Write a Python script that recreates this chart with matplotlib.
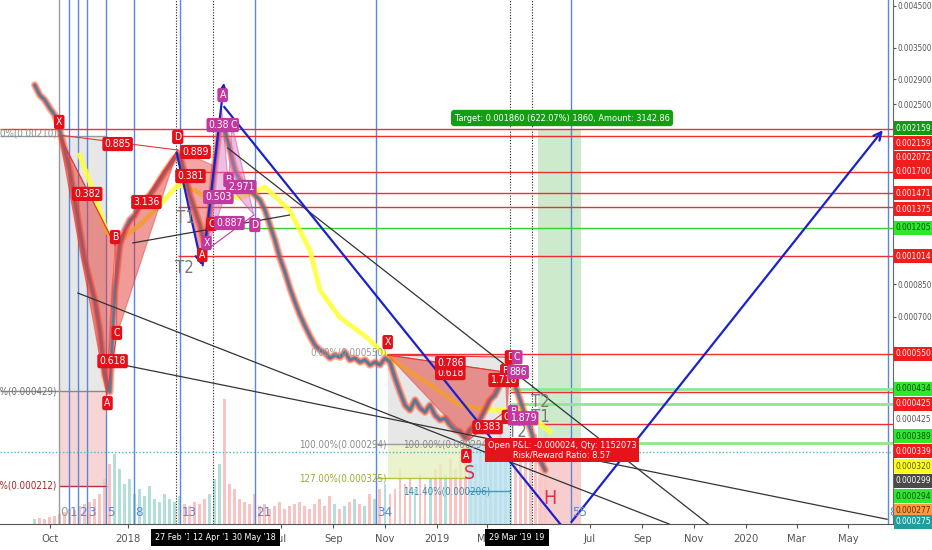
import matplotlib
matplotlib.use('Agg')
import matplotlib.pyplot as plt
import matplotlib.dates as mdates
from matplotlib.patches import Polygon
from matplotlib.ticker import NullLocator, FuncFormatter
import numpy as np
import pandas as pd

plt.rcParams['font.family'] = ['DejaVu Sans']
plt.rcParams['font.stretch'] = 'condensed'

# ---------------- data ----------------
close = [0.002801, 0.002638, 0.002561, 0.002441, 0.00234, 0.002139, 0.001898, 0.001684, 0.001407, 0.001175,
         0.000982, 0.000871, 0.000773, 0.000646, 0.000493, 0.000446, 0.00082, 0.001074, 0.001175, 0.001248,
         0.001286, 0.001365, 0.001407, 0.001449, 0.001512, 0.001586, 0.001664, 0.001735, 0.00181, 0.001842,
         0.001634, 0.001449, 0.001325, 0.001211, 0.001074, 0.001286, 0.001735, 0.002204, 0.002139, 0.001898,
         0.001684, 0.001586, 0.001539, 0.001493, 0.001449, 0.001407, 0.001325, 0.001211, 0.001107, 0.000994,
         0.000914, 0.00083, 0.000764, 0.000707, 0.000662, 0.000623, 0.00059, 0.000573, 0.000563, 0.000546,
         0.000556, 0.000549, 0.000566, 0.00054, 0.000546, 0.000533, 0.00054, 0.000524, 0.000533, 0.000524,
         0.000546, 0.000533, 0.000485, 0.000446, 0.000412, 0.0004, 0.000425, 0.000405, 0.000395, 0.000412,
         0.000388, 0.000377, 0.000381, 0.000366, 0.000355, 0.000351, 0.000338, 0.000355, 0.000366, 0.000377,
         0.0004, 0.000425, 0.000438, 0.000465, 0.000509, 0.000533, 0.000465, 0.000425, 0.000388, 0.000359,
         0.000324, 0.000297, 0.000279]
close_start = '2017-09-13'
close_end = '2019-05-09'

volume = [5, 6, 5, 7, 8, 10, 12, 15, 14, 18, 20, 22, 25, 30, 45, 60, 70, 55, 40, 45,
          30, 35, 28, 38, 25, 22, 30, 25, 22, 28, 20, 18, 22, 20, 25, 30, 45, 60, 125, 40,
          35, 25, 22, 20, 30, 18, 20, 15, 18, 22, 15, 18, 20, 22, 18, 15, 20, 25, 18, 28,
          20, 15, 18, 22, 25, 20, 18, 30, 25, 35, 40, 30, 35, 55, 40, 45, 35, 50, 40, 45,
          55, 60, 50, 65, 55, 70, 85, 95, 60, 70, 80, 65, 75, 90, 70, 85, 60, 75, 80, 65,
          90, 70, 100]

slow_ma_dates = ['2017-11-05', '2017-11-23', '2017-12-07', '2017-12-22', '2018-01-15', '2018-02-10',
                 '2018-03-01', '2018-03-21', '2018-04-08', '2018-04-25', '2018-05-13', '2018-05-31',
                 '2018-06-12', '2018-07-11', '2018-08-04', '2018-08-16', '2018-09-08', '2018-10-10',
                 '2018-10-26', '2018-11-18', '2018-12-24', '2019-01-28', '2019-03-05', '2019-04-13',
                 '2019-05-15']
slow_ma = [0.001842, 0.001449, 0.001162, 0.001107, 0.001211, 0.001382, 0.001539, 0.001493, 0.001407,
           0.001449, 0.001424, 0.001476, 0.001521, 0.001325, 0.001043, 0.000821, 0.000698, 0.000619,
           0.000573, 0.000524, 0.000465, 0.000412, 0.0004, 0.0004, 0.000351]

x_tick_dates = ['2017-10-01', '2018-01-01', '2018-07-01', '2018-09-01', '2018-11-01', '2019-01-01',
                '2019-03-01', '2019-07-01', '2019-09-01', '2019-11-01', '2020-01-01', '2020-03-01',
                '2020-05-01']
x_tick_labels = ['Oct', '2018', 'Jul', 'Sep', 'Nov', '2019', 'Mar', 'Jul', 'Sep', 'Nov', '2020', 'Mar', 'May']
y_tick_values = [0.0045, 0.0035, 0.0029, 0.0025, 0.00085, 0.0007]

# price tags on the right scale: text, value, face colour, text colour
price_tags = [('0.002159', 0.002165, '#139a13', 'white'),
              ('0.002159', 0.001979, '#f21c1c', 'white'),
              ('0.002072', 0.00181, '#f21c1c', 'white'),
              ('0.001700', 0.001664, '#f21c1c', 'white'),
              ('0.001471', 0.001467, '#f21c1c', 'white'),
              ('0.001375', 0.001333, '#f21c1c', 'white'),
              ('0.001205', 0.00119, '#2ee82e', '#0a4a0a'),
              ('0.001014', 0.001006, '#f21c1c', 'white'),
              ('0.000550', 0.00056, '#f21c1c', 'white'),
              ('0.000434', 0.000454, '#2ee82e', '#0a4a0a'),
              ('0.000425', 0.000415, '#f21c1c', 'white'),
              ('0.000425', 0.000377, 'white', '#555555'),
              ('0.000389', 0.000342, '#2ee82e', '#0a4a0a'),
              ('0.000339', 0.000313, '#f21c1c', 'white'),
              ('0.000320', 0.000286, '#ffff1a', '#555500'),
              ('0.000299', 0.000262, '#4a4a4a', 'white'),
              ('0.000294', 0.000239, '#2ee82e', '#0a4a0a'),
              ('0.000277', 0.000219, '#ff9a40', '#5a2a00'),
              ('0.000275', 0.000205, '#1f9e9e', 'white')]

# horizontal levels: value, start date (None = from left edge), colour, linestyle, width
levels = [(0.002153, None, '#f03030', '-', 1.0),
          (0.002064, '2018-03-01', '#f03030', '-', 1.0),
          (0.001664, '2018-03-01', '#f03030', '-', 1.0),
          (0.001467, '2018-04-25', '#f03030', '-', 1.0),
          (0.001349, '2018-03-01', '#f03030', '-', 1.0),
          (0.00119, '2018-04-02', '#2ed62e', '-', 1.0),
          (0.001006, '2018-03-01', '#f03030', '-', 1.0),
          (0.00056, '2018-11-04', '#f03030', '-', 1.0),
          (0.000454, '2019-03-29', '#8fe88f', '-', 2.0),
          (0.000446, '2019-03-29', '#f03030', '-', 1.0),
          (0.000415, '2019-03-29', '#8fe88f', '-', 2.0),
          (0.000368, '2019-03-29', '#f03030', '-', 1.0),
          (0.000328, '2019-03-29', '#8fe88f', '-', 2.0),
          (0.000311, None, '#4fb8c8', (0, (1, 1.5)), 1.0)]

fib_time = [0, 1, 2, 3, 5, 8, 13, 21, 34, 55, 89]
fib_time_start = '2017-10-12'
fib_time_step_days = 11

marked_dates = ['2018-02-27', '2018-04-12', '2019-03-29', '2019-04-23']
date_boxes = [("12 Apr '19", '2019-04-14'), ("29 Mar '19", '2019-03-29'),
              ("27 Feb '18", '2018-02-27'), ("12 Apr '18", '2018-04-12'), ("30 May '18", '2018-05-30')]

# harmonic pattern points (date, price)
pat1 = [('2017-10-12', 0.002076), ('2017-12-07', 0.000438), ('2017-12-17', 0.001074),
        ('2017-12-19', 0.000627), ('2018-03-01', 0.001898)]
pat1b = [('2018-03-01', 0.001898), ('2018-03-30', 0.000971), ('2018-04-11', 0.001735)]
pat2 = [('2018-04-04', 0.001043), ('2018-04-22', 0.002412), ('2018-04-30', 0.001539),
        ('2018-05-04', 0.002204), ('2018-05-30', 0.001286)]
pat3 = [('2018-11-04', 0.000556), ('2019-02-07', 0.000334), ('2019-03-23', 0.000502),
        ('2019-03-25', 0.0004), ('2019-03-29', 0.000549)]

# trend lines (start, end)
black_lines = [(('2017-12-10', 0.000533), ('2020-06-16', 0.000208)),
               (('2017-11-03', 0.000806), ('2019-10-03', 0.000202)),
               (('2018-04-29', 0.001921), ('2019-11-18', 0.000202)),
               (('2018-01-07', 0.001088), ('2018-07-11', 0.001286))]
blue_lines = [(('2018-04-25', 0.002455), ('2019-05-27', 0.000202), False),
              (('2019-06-07', 0.000202), ('2020-06-13', 0.002165), True),
              (('2018-02-27', 0.001898), ('2018-03-30', 0.000936), True),
              (('2018-03-30', 0.000936), ('2018-04-25', 0.002886), True)]

# ---------------- figure ----------------
D = lambda s: mdates.date2num(pd.Timestamp(s))

fig = plt.figure(figsize=(9.32, 5.5), dpi=100)
fig.patch.set_facecolor('white')
pos = [0.0, 26 / 550, 893 / 932, 524 / 550]
axv = fig.add_axes(pos)
ax = fig.add_axes(pos, sharex=axv)
axv.set_zorder(0)
ax.set_zorder(1)
ax.patch.set_visible(False)

x_left, x_right = D('2017-08-03'), D('2020-06-23')
y_top, y_bot = 0.00466, 0.0002022
ax.set_yscale('log')
ax.set_xlim(x_left, x_right)
ax.set_ylim(y_bot, y_top)

cd = mdates.date2num(pd.date_range(close_start, close_end, periods=len(close)).to_pydatetime())

# volume
vcols = ['#26a69a' if i == 0 or close[i] >= close[i - 1] else '#ef5350' for i in range(len(close))]
axv.bar(cd, volume, width=3.5, color=vcols, alpha=0.35, linewidth=0)
axv.set_ylim(0, 524)
axv.axis('off')

# fib boxes
ax.fill_between([D('2017-10-12'), D('2017-12-07')], 0.000448, 0.00207, color='#d8d8d8', alpha=0.6, lw=0, zorder=0.5)
ax.fill_between([D('2017-10-12'), D('2017-12-07')], 0.000254, 0.000448, color='#f4c4c4', alpha=0.7, lw=0, zorder=0.5)
ax.hlines(0.00207, x_left, D('2017-12-07'), color='#9a9a9a', lw=1, zorder=1)
ax.hlines(0.000448, x_left, D('2017-12-07'), color='#8a8a8a', lw=1, zorder=1)
ax.hlines(0.000254, D('2017-10-12'), D('2017-12-07'), color='#c03030', lw=1, zorder=1)

ax.fill_between([D('2018-11-04'), D('2019-03-29')], 0.000326, 0.00056, color='#d8d8d8', alpha=0.6, lw=0, zorder=0.5)
ax.fill_between([D('2018-11-04'), D('2019-02-07')], 0.000266, 0.000326, color='#e6f0c0', alpha=0.8, lw=0, zorder=0.5)
ax.fill_between([D('2019-02-07'), D('2019-03-29')], y_bot, 0.000326, color='#bfe2f0', alpha=0.8, lw=0, zorder=0.5)
ax.hlines(0.000326, D('2018-10-20'), D('2019-03-29'), color='#9a9a9a', lw=1, zorder=1)
ax.hlines(0.000266, D('2018-10-20'), D('2019-02-07'), color='#b4c040', lw=1, zorder=1)
ax.hlines(0.000246, D('2019-02-07'), D('2019-03-29'), color='#4a9ac0', lw=1, zorder=1)

# position tool
ax.fill_between([D('2019-05-01'), D('2019-06-20')], 0.000311, 0.002139, color='#c8e8c8', alpha=0.9, lw=0, zorder=0.5)
ax.fill_between([D('2019-05-01'), D('2019-06-20')], y_bot, 0.000311, color='#f8c8c8', alpha=0.9, lw=0, zorder=0.5)

# horizontal levels
for val, start, col, ls, lw in levels:
    xs = x_left if start is None else D(start)
    ax.hlines(val, xs, x_right, color=col, ls=ls, lw=lw, zorder=1.2)

# fib time zones
base = pd.Timestamp(fib_time_start)
for n in fib_time:
    d = mdates.date2num(base + pd.Timedelta(days=fib_time_step_days * n))
    col = '#9a9a9a' if n == 0 else '#5a86dc'
    ax.axvline(d, color=col, lw=1, zorder=1.1)
    ax.text(d + 1.5, 0.009, str(n), transform=ax.get_xaxis_transform(), color=col,
            fontsize=9.5, ha='left', va='bottom', zorder=6)

for md in marked_dates:
    ax.axvline(D(md), color='#222222', lw=0.8, ls=(0, (1, 1.5)), zorder=1.1)

# price ribbon
for col, lw, al in [('#f44336', 5.5, 0.35), ('#ff9800', 4.5, 0.35), ('#e91e63', 3.5, 0.35),
                    ('#9c27b0', 2.5, 0.35), ('#3f51b5', 1.8, 0.35), ('#00bcd4', 1.2, 0.5)]:
    ax.plot(cd, close, color=col, lw=lw, alpha=al, solid_capstyle='round', zorder=2)
ax.plot(mdates.date2num(pd.to_datetime(slow_ma_dates).to_pydatetime()), slow_ma,
        color='#ffff40', lw=3.5, alpha=0.9, zorder=1.9)
ax.plot(cd, close, color='#2a8f86', lw=0.8, zorder=2.2)

# patterns
def tri(pts, fc, ec, alpha):
    p = Polygon([[D(a), b] for a, b in pts], closed=True, fc=fc, ec=ec, lw=0.8, alpha=alpha, zorder=2.5)
    ax.add_patch(p)

for pat, fc in [(pat1, '#e53935'), (pat3, '#e53935')]:
    tri(pat[0:3], fc, fc, 0.5)
    tri(pat[2:5], fc, fc, 0.5)
    for i, j in [(0, 2), (1, 3), (2, 4), (0, 4)]:
        ax.plot([D(pat[i][0]), D(pat[j][0])], [pat[i][1], pat[j][1]], color=fc, lw=0.8, zorder=2.6)
tri(pat1b, '#e53935', '#e53935', 0.45)
tri(pat2[0:3], '#d36fc2', '#c2389e', 0.45)
tri(pat2[2:5], '#d36fc2', '#c2389e', 0.45)
ax.plot([D(pat2[0][0]), D(pat2[4][0])], [pat2[0][1], pat2[4][1]], color='#c2389e', lw=0.8, zorder=2.6)

# trend lines
for (a, b) in black_lines:
    ax.plot([D(a[0]), D(b[0])], [a[1], b[1]], color='#333333', lw=0.9, zorder=3)
for (a, b, arrow) in blue_lines:
    if arrow:
        ax.annotate('', xy=(D(b[0]), b[1]), xytext=(D(a[0]), a[1]),
                    arrowprops=dict(arrowstyle='->', color='#1a22c8', lw=1.6, mutation_scale=14), zorder=3.5)
    else:
        ax.plot([D(a[0]), D(b[0])], [a[1], b[1]], color='#1a22c8', lw=1.6, zorder=3.5)

# labels
RED, MAG, GRAY = '#e3101a', '#c2389e', '#8a8a8a'
def lab(t, d, p, fc, fs=7.5):
    ax.text(D(d), p, t, ha='center', va='center', fontsize=fs, color='white', zorder=8,
            bbox=dict(boxstyle='round,pad=0.2', fc=fc, ec='none'))

for t, d, p in [('X', '2017-10-12', 0.002245), ('A', '2017-12-08', 0.000417), ('B', '2017-12-17', 0.001127),
                ('C', '2017-12-19', 0.000635), ('D', '2018-03-01', 0.002052), ('0.885', '2017-12-20', 0.001967),
                ('0.382', '2017-11-14', 0.001459), ('0.618', '2017-12-14', 0.000536), ('3.136', '2018-01-23', 0.00139),
                ('0.889', '2018-03-22', 0.001876), ('0.381', '2018-03-16', 0.001624), ('A', '2018-03-30', 0.001012),
                ('C', '2018-04-10', 0.001219),
                ('X', '2018-11-04', 0.000601), ('0.618', '2019-01-17', 0.000499), ('0.786', '2019-01-17', 0.00053),
                ('B', '2019-03-23', 0.000505), ('1.718', '2019-03-21', 0.000479), ('0.383', '2019-03-02', 0.000361),
                ('A', '2019-02-05', 0.000304), ('C', '2019-03-25', 0.000384), ('D', '2019-03-29', 0.000549)]:
    lab(t, d, p, RED)
for t, d, p in [('A', '2018-04-23', 0.002638), ('0.382', '2018-04-22', 0.002204), ('C', '2018-05-06', 0.002204),
                ('B', '2018-04-30', 0.001586), ('2.971', '2018-05-15', 0.001521), ('0.503', '2018-04-18', 0.001432),
                ('0.887', '2018-05-01', 0.001226), ('D', '2018-05-31', 0.001211), ('X', '2018-04-04', 0.001088),
                ('C', '2019-04-06', 0.000549), ('886', '2019-04-07', 0.000502), ('B', '2019-04-01', 0.000395),
                ('1.879', '2019-04-13', 0.000381)]:
    lab(t, d, p, MAG)
for t, d, p in [('T1', '2018-03-10', 0.001263), ('T2', '2018-03-09', 0.000936), ('T2', '2019-05-03', 0.00042),
                ('T1', '2019-05-03', 0.000384), ('T2', '2019-04-06', 0.000351)]:
    ax.text(D(d), p, t, ha='center', va='center', fontsize=12, color='#7a7a7a', zorder=7)
ax.text(D('2019-02-09'), 0.000274, 'S', ha='center', va='center', fontsize=14, color='#e0304a', zorder=7)
ax.text(D('2019-05-15'), 0.000236, 'H', ha='center', va='center', fontsize=14, color='#e0304a', zorder=7)

# fib level texts
for t, d, p, col, ha in [('0.00%(0.00210)', '2017-10-10', 0.002089, '#8a8a8a', 'right'),
                         ('100.00%(0.000429)', '2017-10-09', 0.000448, '#707070', 'right'),
                         ('113.00%(0.000212)', '2017-10-09', 0.000254, '#b02020', 'right'),
                         ('0.00%(0.000550)', '2018-11-03', 0.000563, '#9a9a9a', 'right'),
                         ('100.00%(0.000294)', '2018-11-03', 0.000326, '#8a8a8a', 'right'),
                         ('100.00%(0.000294)', '2018-11-22', 0.000326, '#8a8a8a', 'left'),
                         ('127.00%(0.000325)', '2018-11-03', 0.000266, '#9aab2a', 'right'),
                         ('141.40%(0.000206)', '2018-11-22', 0.000246, '#3d8bb5', 'left')]:
    ax.text(D(d), p, t, ha=ha, va='center', fontsize=7, color=col, zorder=7, clip_on=True)

ax.text(D('2019-05-29'), 0.002299, 'Target: 0.001860 (622.07%) 1860, Amount: 3142.86', ha='center', va='center',
        fontsize=6.6, color='white', zorder=9, bbox=dict(boxstyle='round,pad=0.4', fc='#12a012', ec='none'))
ax.text(D('2019-05-29'), 0.000315, 'Open P&L: -0.000024, Qty: 1152073\nRisk/Reward Ratio: 8.57', ha='center',
        va='center', fontsize=6.6, color='white', zorder=9, linespacing=1.1,
        bbox=dict(boxstyle='square,pad=0.3', fc='#e3141a', ec='none'))

# axes styling
for s in ['top', 'left']:
    ax.spines[s].set_visible(False)
ax.spines['right'].set_color('#666666')
ax.spines['bottom'].set_color('#555555')
ax.yaxis.tick_right()
ax.set_yticks(y_tick_values)
ax.yaxis.set_minor_locator(NullLocator())
ax.yaxis.set_major_formatter(FuncFormatter(lambda v, p: f'{v:.6f}'))
ax.tick_params(axis='y', labelsize=5.8, colors='#555555', length=2, pad=1.5)
ax.set_xticks([D(t) for t in x_tick_dates])
ax.set_xticklabels(x_tick_labels)
ax.xaxis.set_minor_locator(NullLocator())
ax.tick_params(axis='x', labelsize=8, colors='#555555', length=3, pad=4)

for t, v, fc, tc in price_tags:
    ax.text(1 + 3 / 893, v, t, transform=ax.get_yaxis_transform(), ha='left', va='center', fontsize=6,
            color=tc, zorder=10, clip_on=False, bbox=dict(boxstyle='square,pad=0.3', fc=fc, ec='none'))

for t, d in date_boxes:
    ax.text(D(d), -0.025, t, transform=ax.get_xaxis_transform(), ha='center', va='center', fontsize=6.4,
            color='white', zorder=10, clip_on=False, bbox=dict(boxstyle='square,pad=0.45', fc='black', ec='none'))

fig.savefig('out.png', dpi=100)
